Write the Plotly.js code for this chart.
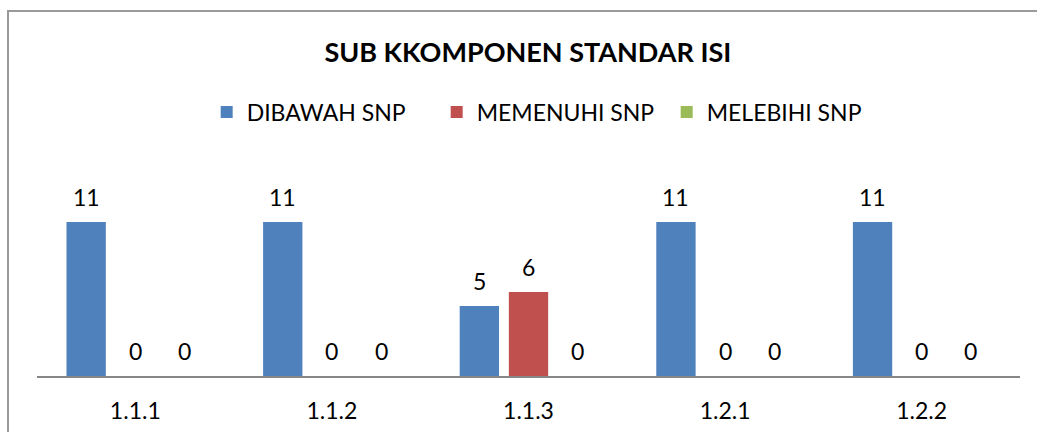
<!DOCTYPE html>
<html>
<head>
<meta charset="utf-8">
<script src="https://cdn.plot.ly/plotly-3.0.1.min.js"></script>
<style>
  html, body { margin: 0; padding: 0; background: #fff; }
  #wrap { position: relative; width: 1037px; height: 432px; overflow: hidden; }
  #chart { position: absolute; left: 0; top: 0; width: 1037px; height: 432px; }
  #frame { position: absolute; left: 7px; top: 10px; width: 1100px; height: 500px;
           border-left: 2px solid #9a9a9a; border-top: 2px solid #9a9a9a; pointer-events: none; }
</style>
</head>
<body>
<div id="wrap">
  <div id="chart"></div>
  <div id="frame"></div>
</div>
<script>
const categories = ["1.1.1", "1.1.2", "1.1.3", "1.2.1", "1.2.2"];
const seriesNames = ["DIBAWAH SNP", "MEMENUHI SNP", "MELEBIHI SNP"];
const dibawah = [11, 11, 5, 11, 11];
const memenuhi = [0, 0, 6, 0, 0];
const melebihi = [0, 0, 0, 0, 0];
const chartTitle = "SUB KKOMPONEN STANDAR ISI";

const colors = ["#4F81BD", "#C0504D", "#9BBB59"];
const values = [dibawah, memenuhi, melebihi];
const FONT = "Lato, 'Open Sans', sans-serif";

const W = 1037, H = 432;
const margin = {l: 37, r: 17, t: 180, b: 56};
const bargap = 0.25, bargroupgap = 0.2;

const traces = values.map((v, i) => ({
  type: "bar",
  name: seriesNames[i],
  x: categories,
  y: v,
  marker: {color: colors[i]},
  hoverinfo: "x+y+name"
}));

// Data labels as annotations positioned from the bar geometry
const plotW = W - margin.l - margin.r;
const catW = plotW / categories.length;
const slot = catW * (1 - bargap) / values.length;
const annotations = [];
values.forEach((v, i) => {
  v.forEach((val, j) => {
    annotations.push({
      x: categories[j], y: val, xref: "x", yref: "y",
      text: String(val), showarrow: false,
      xshift: (i - (values.length - 1) / 2) * slot,
      yanchor: "middle", yshift: 25,
      font: {family: FONT, size: 23, color: "#000"}
    });
  });
});

const layout = {
  width: W, height: H,
  margin: margin,
  paper_bgcolor: "#fff", plot_bgcolor: "#fff",
  barmode: "group", bargap: bargap, bargroupgap: bargroupgap,
  title: {
    text: "<b>" + chartTitle + "</b>",
    x: 0.509, xanchor: "center", xref: "container",
    y: 1 - 53 / H, yanchor: "middle", yref: "container",
    font: {family: FONT, size: 27, color: "#000"}
  },
  showlegend: true,
  legend: {
    orientation: "h",
    xref: "container", yref: "container",
    x: 0.532, xanchor: "center",
    y: 1 - 112 / H, yanchor: "middle",
    entrywidth: 185, entrywidthmode: "pixels",
    font: {family: FONT, size: 23, color: "#000"},
    itemclick: false, itemdoubleclick: false
  },
  xaxis: {
    type: "category",
    showline: true, linecolor: "#868686", linewidth: 1.5,
    ticks: "", showgrid: false, zeroline: false,
    tickfont: {family: FONT, size: 23, color: "#000"},
    ticklabelstandoff: 14
  },
  yaxis: {
    range: [0, 14], visible: false, showgrid: false, zeroline: false
  },
  annotations: annotations
};

Plotly.newPlot("chart", traces, layout, {displayModeBar: false, staticPlot: true});
</script>
</body>
</html>
